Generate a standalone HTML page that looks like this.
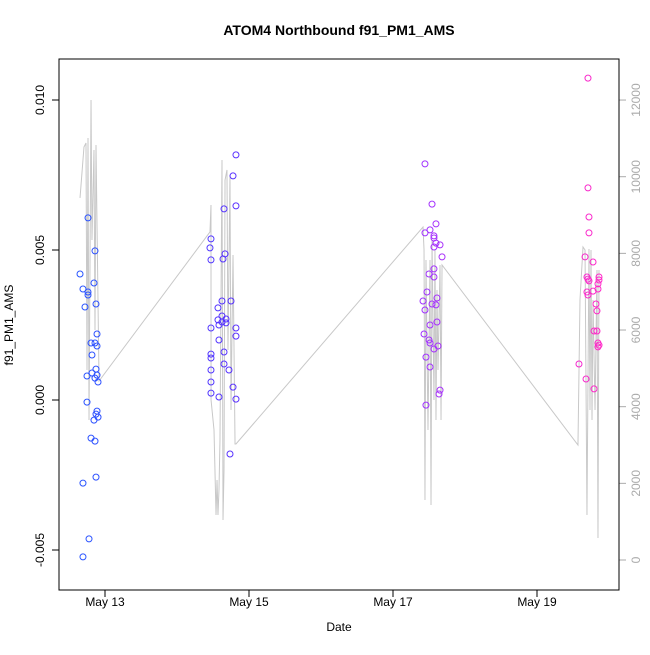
<!DOCTYPE html>
<html><head><meta charset="utf-8"><style>
body{margin:0;background:#fff}
svg{font-family:"Liberation Sans",sans-serif}
</style></head><body>
<svg id="chart" width="650" height="650">
<rect width="650" height="650" fill="#fff"/>
<text x="339" y="35" text-anchor="middle" font-weight="bold" font-size="14">ATOM4 Northbound f91_PM1_AMS</text>
<text x="339" y="631" text-anchor="middle" font-size="12">Date</text>
<text transform="translate(13,325) rotate(-90)" text-anchor="middle" font-size="12">f91_PM1_AMS</text>
<g id="line"></g>
<g id="pts"></g>
<g id="axes"></g>
<rect x="59" y="59" width="560" height="531" fill="none" stroke="#000"/>
</svg>
<script>
const ptDays=[-0.236,-0.139,-0.347,-0.306,-0.236,-0.236,-0.153,-0.125,-0.278,-0.111,-0.194,-0.139,-0.111,-0.181,-0.125,-0.181,-0.25,-0.111,-0.139,-0.097,-0.25,-0.111,-0.125,-0.097,-0.153,-0.194,-0.139,-0.125,-0.306,-0.222,-0.306,
1.819,1.778,1.819,1.653,1.472,1.458,1.667,1.639,1.472,1.625,1.75,1.569,1.625,1.569,1.681,1.625,1.583,1.681,1.472,1.819,1.819,1.583,1.472,1.472,1.653,1.653,1.472,1.722,1.472,1.778,1.472,1.583,1.819,1.736,
4.444,4.542,4.597,4.514,4.444,4.569,4.569,4.597,4.653,4.569,4.681,4.569,4.5,4.569,4.472,4.611,4.417,4.444,4.542,4.597,4.514,4.611,4.431,4.5,4.514,4.625,4.569,4.458,4.514,4.653,4.639,4.458,
6.708,6.708,6.722,6.722,6.667,6.778,6.694,6.708,6.722,6.861,6.861,6.847,6.778,6.694,6.847,6.708,6.819,6.833,6.792,6.833,6.847,6.861,6.847,6.583,6.681,6.792];
const ptValues=[0.00607,0.00497,0.0042,0.0037,0.0036,0.0035,0.0039,0.0032,0.0031,0.0022,0.0019,0.0019,0.0018,0.0015,0.00103,0.0009,0.0008,0.00083,0.00073,0.0006,-0.00007,-0.00037,-0.00047,-0.00057,-0.00067,-0.00127,-0.00137,-0.00257,-0.00277,-0.00463,-0.00523,
0.00817,0.00747,0.00647,0.00637,0.00537,0.00507,0.00487,0.0047,0.00467,0.0033,0.0033,0.00307,0.0028,0.00267,0.0027,0.0026,0.0025,0.00257,0.0024,0.0024,0.00213,0.002,0.00153,0.0014,0.0016,0.0012,0.001,0.001,0.0006,0.00043,0.00023,0.0001,0.00003,-0.0018,
0.00787,0.00653,0.00587,0.00567,0.00557,0.00547,0.0054,0.00523,0.00517,0.0051,0.00477,0.00437,0.0042,0.0041,0.0036,0.0034,0.0033,0.003,0.0032,0.00317,0.0025,0.0026,0.0022,0.002,0.0019,0.0018,0.0017,0.00143,0.0011,0.00033,0.0002,-0.00017,
0.01073,0.00707,0.0061,0.00557,0.00477,0.0046,0.0041,0.00403,0.00397,0.0041,0.004,0.00387,0.00363,0.0036,0.0037,0.0035,0.0032,0.00297,0.0023,0.0023,0.0019,0.00183,0.00177,0.0012,0.0007,0.00037];
const lineDays=[-0.347,-0.292,-0.264,-0.25,-0.236,-0.222,-0.194,-0.181,-0.153,-0.139,-0.125,-0.083,
1.458,1.472,1.473,1.514,1.542,1.556,1.569,1.583,1.597,1.625,1.639,1.653,1.667,1.694,1.708,1.736,1.75,1.778,1.806,1.819,
4.417,4.431,4.444,4.458,4.486,4.514,4.528,4.542,4.569,4.583,4.597,4.611,4.625,4.653,4.667,4.681,
6.569,6.597,6.639,6.667,6.694,6.722,6.736,6.75,6.764,6.778,6.806,6.833,6.847,6.861];
const lineValues=[9445,10775,10880,4957,11010,3653,12001,8349,10697,6001,10827,4670,
8558,9262,4174,3392,1174,2087,1174,1826,3131,10436,1044,2348,9914,10175,5479,10045,3914,7957,3026,3026,
8688,8088,1565,7827,3392,7827,1435,8349,4174,8088,3653,7044,4957,7697,3653,7697,
3000,6783,8166,8088,1174,8114,3914,8088,3653,6783,3914,7566,574,7566];
const leftTicks=[-0.005,0,0.005,0.010];
const leftLabels=["-0.005","0.000","0.005","0.010"];
const rightTicks=[0,2000,4000,6000,8000,10000,12000];
const xTicks=[0,2,4,6];
const xLabels=["May 13","May 15","May 17","May 19"];
const NS="http://www.w3.org/2000/svg";
const xs=d=>105+d*72;
const yl=v=>400-v*30000;
const yr=v=>560-v*0.03833;
function mk(tag,at,parent){const e=document.createElementNS(NS,tag);for(const k in at)e.setAttribute(k,at[k]);parent.appendChild(e);return e;}
const lineG=document.getElementById('line');
const path=mk('polyline',{points:lineDays.map((d,i)=>xs(d)+','+yr(lineValues[i])).join(' '),fill:'none',stroke:'#c8c8c8','stroke-width':1},lineG);


function col(d){const t=Math.max(0,Math.min(1,(d+0.35)/7.2));
const st=[[40,85,255],[95,45,255],[160,50,255],[255,40,200]];
const s=t*3,i=Math.min(2,Math.floor(s)),f=s-i;
return 'rgb('+st[i].map((c,k)=>Math.round(c+(st[i+1][k]-c)*f)).join(',')+')';}
const pg=document.getElementById('pts');
ptDays.forEach((d,i)=>{const c=mk('circle',{cx:xs(d),cy:yl(ptValues[i]),r:3,fill:'none',stroke:col(d),'stroke-width':1},pg);

});
const ax=document.getElementById('axes');
mk('line',{x1:59,x2:59,y1:yl(-0.005),y2:yl(0.010),stroke:'#000'},ax);
leftTicks.forEach((v,i)=>{mk('line',{x1:52,x2:59,y1:yl(v),y2:yl(v),stroke:'#000'},ax);
const t=mk('text',{transform:`translate(44,${yl(v)}) rotate(-90)`,'text-anchor':'middle','font-size':12},ax);t.textContent=leftLabels[i];

});
mk('line',{x1:619,x2:619,y1:yr(0),y2:yr(12000),stroke:'#aaa'},ax);
rightTicks.forEach(v=>{mk('line',{x1:619,x2:626,y1:yr(v),y2:yr(v),stroke:'#aaa'},ax);
const t=mk('text',{transform:`translate(640,${yr(v)}) rotate(-90)`,'text-anchor':'middle','font-size':12,fill:'#aaa'},ax);t.textContent=v;

});
mk('line',{x1:xs(0),x2:xs(6),y1:590,y2:590,stroke:'#000'},ax);
xTicks.forEach((d,i)=>{mk('line',{x1:xs(d),x2:xs(d),y1:590,y2:597,stroke:'#000'},ax);
const t=mk('text',{x:xs(d),y:606,'text-anchor':'middle','font-size':12},ax);t.textContent=xLabels[i];

});
</script>
</body></html>
